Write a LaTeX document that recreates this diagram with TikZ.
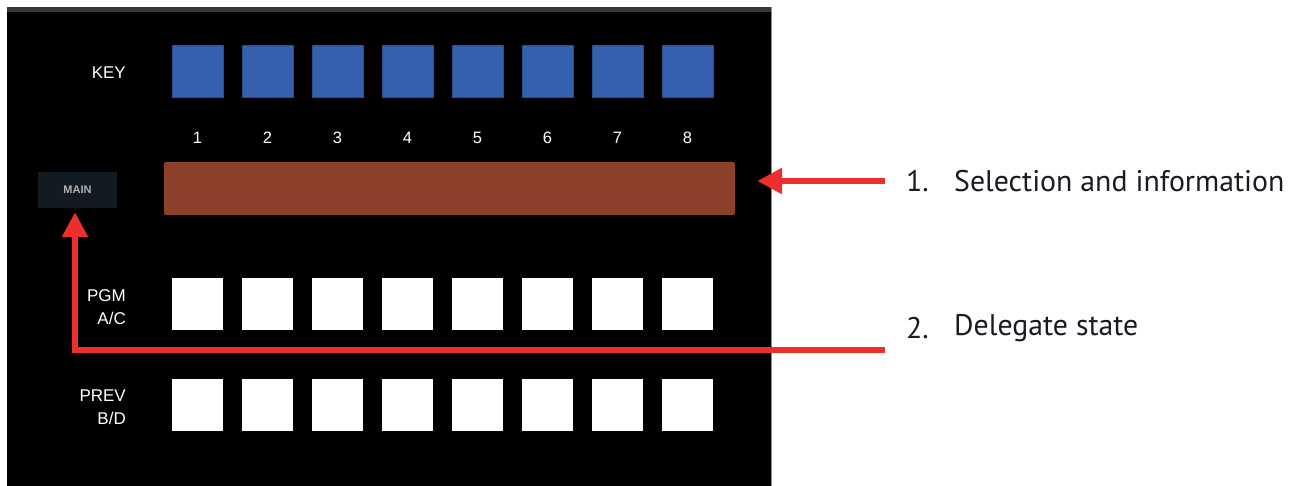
\documentclass[tikz,border=0pt]{standalone}
\usepackage{fontspec}
\setmainfont{Liberation Sans}
\newfontfamily\notefont{PT Sans}
\usetikzlibrary{arrows.meta}
\definecolor{keyblue}{HTML}{3560AE}
\definecolor{barbrown}{HTML}{8E412A}
\definecolor{mainbg}{HTML}{121A22}
\definecolor{redline}{HTML}{EE2D2D}
\definecolor{notecol}{HTML}{1A1A22}
\tikzset{
  keybtn/.style={fill=keyblue, draw=keyblue!80!black, line width=0.5pt, minimum width=51pt, minimum height=52pt, inner sep=0pt},
  whitebtn/.style={fill=white, minimum width=51pt, minimum height=52pt, inner sep=0pt},
  panellabel/.style={text=white, font=\fontsize{17}{23}\selectfont, align=right, inner sep=0pt},
  numlabel/.style={text=white, font=\fontsize{16.5}{19}\selectfont, inner sep=0pt},
  note/.style={text=notecol, font=\notefont\fontsize{29.8}{34}\selectfont, inner sep=0pt, anchor=west},
  redarrow/.style={draw=redline, line width=6pt, -{Triangle[length=25pt,width=25pt]}},
}
\begin{document}
\begin{tikzpicture}[x=1pt,y=-1pt]
\useasboundingbox (0,0) rectangle (1300,486);
\fill[white] (0,0) rectangle (1300,486);
% panel
\fill[black] (7,7) rectangle (771,486);
\fill[black!78] (7,7) rectangle (771,12);
\draw[black!45, line width=0.8pt] (771,7) -- (771,486);
% rows of buttons
\foreach \i in {1,...,8} {
  \node[keybtn] (k\i) at ({197.5+70*(\i-1)},71) {};
  \node[numlabel] (n\i) at ({197.5+70*(\i-1)},138) {\i};
  \node[whitebtn] (pgm\i) at ({197.5+70*(\i-1)},303.5) {};
  \node[whitebtn] (prev\i) at ({197.5+70*(\i-1)},404.5) {};
}
\node[panellabel, anchor=east] (keylbl) at (126,73) {KEY};
\node[panellabel, anchor=east] (pgmlbl) at (126,307) {PGM\\A/C};
\node[panellabel, anchor=east] (prevlbl) at (126,407) {PREV\\B/D};
% bar
\node[fill=barbrown, rounded corners=2pt, minimum width=571pt, minimum height=53pt, inner sep=0pt] (bar) at (449.5,188.5) {};
% main
\node[fill=mainbg, minimum width=79pt, minimum height=36pt, inner sep=0pt, text=black!30, font=\fontsize{11}{12}\selectfont\bfseries] (main) at (77.5,190) {MAIN};
% arrows
\coordinate (c1) at (885,181);
\coordinate (c2) at (885,350);
\draw[redarrow] (c1) -- ([xshift=22pt]bar.east |- c1);
\draw[redarrow] (c2) -| ([xshift=-2.5pt,yshift=-4pt]main.south);
% notes
\node[note] (t1n) at (906,181) {1.};
\node[note] (t1) at (954,181) {Selection and information};
\node[note] (t2n) at (906,328) {2.};
\node[note] (t2) at (954,328) {Delegate state};
\end{tikzpicture}
\end{document}
